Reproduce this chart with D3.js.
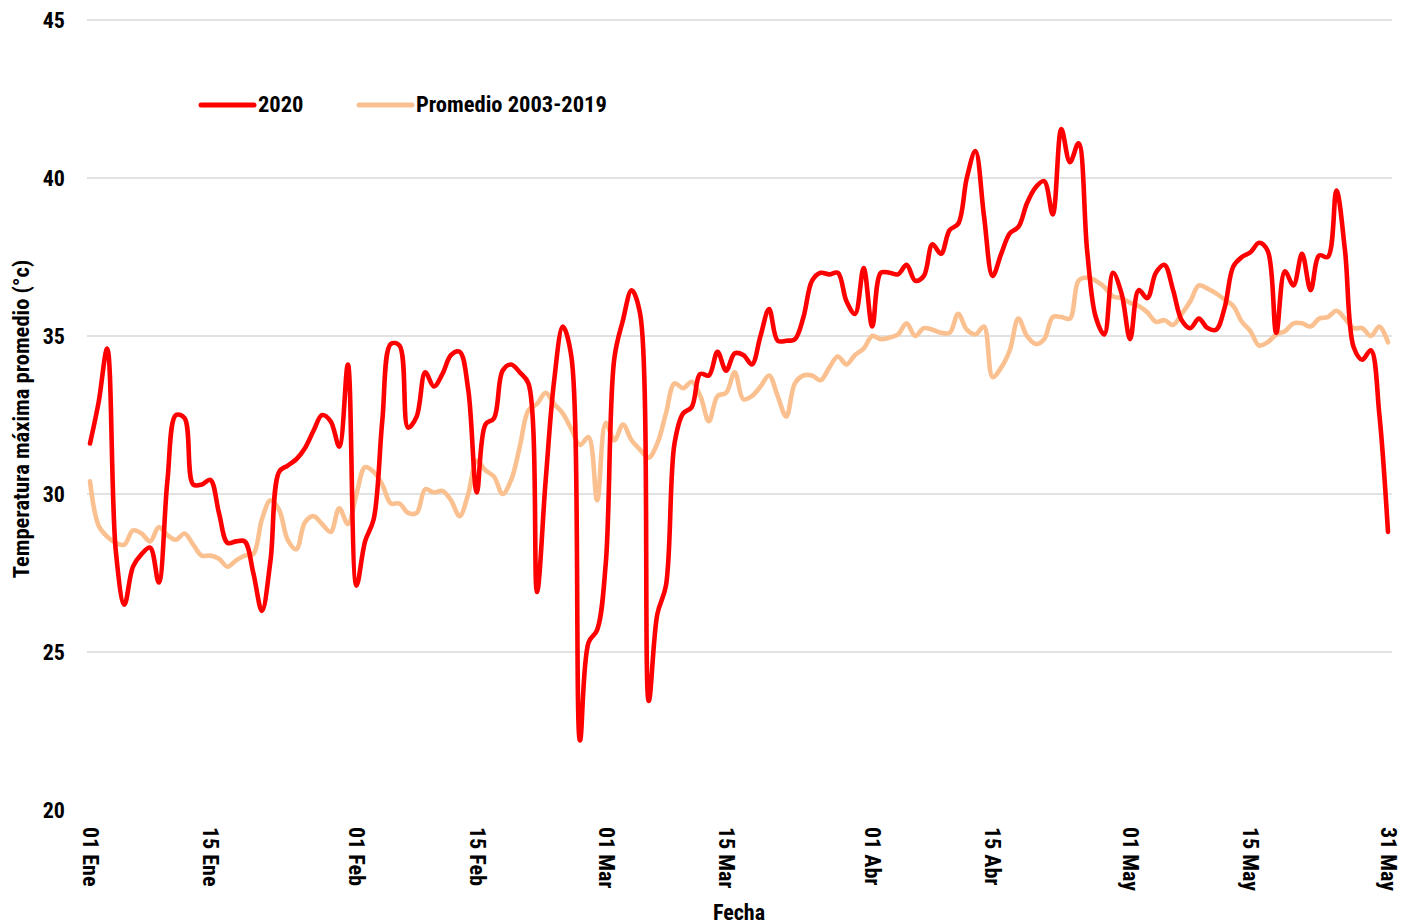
<!DOCTYPE html>
<html><head><meta charset="utf-8">
<script src="https://cdn.jsdelivr.net/npm/d3@7"></script>
<style>
html,body{margin:0;padding:0;background:#fff;}
svg text{font-family:"Liberation Sans Narrow","Roboto Condensed","DejaVu Sans Condensed",sans-serif;font-weight:bold;fill:#000;}
</style></head>
<body>
<svg id="chart" width="1408" height="924"></svg>
<script>
const startDate = "2020-01-01";
const endDate = "2020-05-31";
const series2020 = [
 31.6,32.9,34.6,28.2,26.5,27.7,28.1,28.3,27.2,30.4,
 32.5,32.4,30.3,30.3,30.45,29.4,28.45,28.5,28.5,27.5,
 26.3,27.9,30.7,30.9,31.1,31.45,32.0,32.5,32.3,31.5,
 34.1,27.1,28.5,29.2,32.3,34.75,34.7,32.1,32.45,33.85,
 33.4,33.8,34.4,34.5,33.3,30.05,32.2,32.4,33.9,34.1,
 33.85,33.5,26.9,30.4,33.6,35.3,34.35,22.2,25.3,25.7,
 27.8,34.3,35.5,36.45,35.7,23.45,26.2,27.1,31.6,32.55,
 32.75,33.8,33.75,34.5,33.9,34.45,34.4,34.1,35.0,35.85,
 34.85,34.85,34.9,35.6,36.75,37.0,36.95,37.0,36.1,35.7,
 37.15,35.3,37.0,37.0,36.95,37.25,36.75,36.9,37.9,37.6,
 38.35,38.55,40.0,40.85,38.8,36.9,37.6,38.25,38.45,39.2,
 39.7,39.9,38.85,41.55,40.5,41.1,37.7,35.6,35.05,37.0,
 36.35,34.9,36.45,36.2,37.0,37.25,36.45,35.5,35.25,35.55,
 35.25,35.2,35.9,37.2,37.5,37.65,37.95,37.7,35.1,37.05,
 36.6,37.6,36.45,37.55,37.5,39.6,37.7,34.65,34.25,34.55,
 32.5,28.8
];
const seriesAvg = [
 30.4,29.0,28.65,28.45,28.4,28.85,28.75,28.5,28.95,28.7,
 28.55,28.75,28.4,28.05,28.05,27.95,27.7,27.9,28.05,28.1,
 29.2,29.8,29.5,28.55,28.25,29.1,29.3,29.05,28.8,29.55,
 29.05,30.0,30.85,30.7,30.3,29.7,29.7,29.4,29.4,30.15,
 30.05,30.1,29.8,29.3,30.0,31.05,30.75,30.55,30.0,30.45,
 31.5,32.65,32.85,33.2,32.85,32.55,32.05,31.55,31.8,29.8,
 32.25,31.7,32.2,31.7,31.4,31.15,31.6,32.55,33.5,33.35,
 33.55,33.1,32.3,33.1,33.2,33.85,33.0,33.1,33.4,33.75,
 33.1,32.45,33.5,33.75,33.75,33.6,34.0,34.35,34.1,34.4,
 34.6,35.0,34.9,34.95,35.05,35.4,35.0,35.25,35.2,35.1,
 35.1,35.7,35.2,35.05,35.3,33.7,34.0,34.55,35.55,35.0,
 34.75,34.9,35.6,35.6,35.55,36.75,36.85,36.75,36.55,36.25,
 36.2,36.05,35.95,35.75,35.45,35.5,35.35,35.7,36.1,36.6,
 36.5,36.35,36.15,35.95,35.45,35.15,34.7,34.8,35.05,35.15,
 35.4,35.4,35.3,35.55,35.6,35.8,35.55,35.25,35.25,35.0,
 35.3,34.8
];
const tickDates = ["2020-01-01","2020-01-15","2020-02-01","2020-02-15","2020-03-01","2020-03-15","2020-04-01","2020-04-15","2020-05-01","2020-05-15","2020-05-31"];
const monthNames = ["Ene","Feb","Mar","Abr","May","Jun","Jul","Ago","Sep","Oct","Nov","Dic"];
const yTicks = [20,25,30,35,40,45];
const seriesNames = ["2020","Promedio 2003-2019"];
const seriesColors = ["#FF0000","#FAC090"];

const parse = d3.utcParse("%Y-%m-%d");
const d0 = parse(startDate);
const dates = d3.utcDay.range(d0, d3.utcDay.offset(parse(endDate),1));
const svg = d3.select("#chart");
svg.append("rect").attr("width",1408).attr("height",924).attr("fill","#fff");

const x = d3.scaleUtc().domain([d0, parse(endDate)]).range([90, 1388]);
const y = d3.scaleLinear().domain([20,45]).range([810,20]);

// gridlines
svg.append("g").selectAll("line").data(yTicks.filter(v=>v>20)).join("line")
  .attr("x1",87).attr("x2",1392)
  .attr("y1",d=>y(d)).attr("y2",d=>y(d))
  .attr("stroke","#d9d9d9").attr("stroke-width",1.3);

// y axis
const yAxis = d3.axisLeft(y).tickValues(yTicks).tickSize(0).tickPadding(0);
const gy = svg.append("g").attr("transform","translate(65,0)").call(yAxis);
gy.select(".domain").remove();
gy.selectAll("text").style("font-size","22px").attr("dy","0.35em").attr("fill","#000");

// x axis
const fmt = d => String(d.getUTCDate()).padStart(2,"0")+" "+monthNames[d.getUTCMonth()];
const xAxis = d3.axisBottom(x).tickValues(tickDates.map(parse)).tickFormat(fmt).tickSize(0).tickPadding(0);
const gx = svg.append("g").attr("transform","translate(0,827)").call(xAxis);
gx.select(".domain").remove();
gx.selectAll("text").style("font-size","22px")
  .attr("text-anchor","start").attr("dy","0.35em").attr("y",0).attr("x",0)
  .attr("transform","rotate(90)");

// axis titles
svg.append("text").attr("x",739).attr("y",920).attr("text-anchor","middle")
  .style("font-size","22px").text("Fecha");
svg.append("text").attr("transform","translate(29,419) rotate(-90)").attr("text-anchor","middle")
  .style("font-size","22.5px").text("Temperatura máxima promedio (°c)");

// lines
const line = d3.line().x((d,i)=>x(dates[i])).y(d=>y(d)).curve(d3.curveCatmullRom.alpha(0.5));
svg.append("path").datum(seriesAvg).attr("d",line).attr("fill","none")
  .attr("stroke",seriesColors[1]).attr("stroke-width",4.6).attr("stroke-linejoin","round").attr("stroke-linecap","round");
svg.append("path").datum(series2020).attr("d",line).attr("fill","none")
  .attr("stroke",seriesColors[0]).attr("stroke-width",4.6).attr("stroke-linejoin","round").attr("stroke-linecap","round");

// legend
const legX = [201, 359];
const leg = svg.append("g");
seriesNames.forEach((n,i)=>{
  leg.append("line").attr("x1",legX[i]).attr("x2",legX[i]+53).attr("y1",105).attr("y2",105)
    .attr("stroke",seriesColors[i]).attr("stroke-width",5).attr("stroke-linecap","round");
  leg.append("text").attr("x",legX[i]+57).attr("y",112)
    .style("font-size","22.5px").text(n);
});
</script>
</body></html>
